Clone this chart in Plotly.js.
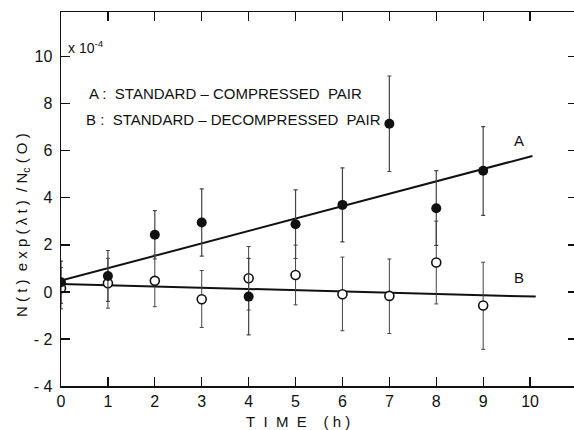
<!DOCTYPE html>
<html>
<head>
<meta charset="utf-8">
<script src="https://cdn.plot.ly/plotly-3.0.1.min.js"></script>
<style>
html,body{margin:0;padding:0;overflow:hidden;background:#fff;}
#chart{width:580px;height:430px;}
</style>
</head>
<body>
<div id="chart"></div>
<script>
// Time (h)
var timeH = [0, 1, 2, 3, 4, 5, 6, 7, 8, 9];
// A: standard-compressed pair (filled circles), values x1e-4
var seriesA = [0.41, 0.68, 2.43, 2.95, -0.20, 2.88, 3.70, 7.15, 3.56, 5.15];
var errA_plus = [0.90, 1.08, 1.03, 1.43, 1.63, 1.46, 1.57, 2.03, 1.60, 1.88];
var errA_minus = [0.90, 1.08, 1.03, 1.43, 1.63, 1.46, 1.57, 2.03, 1.58, 1.90];
// B: standard-decompressed pair (open circles)
var seriesB = [0.16, 0.37, 0.47, -0.31, 0.58, 0.72, -0.10, -0.17, 1.25, -0.58];
var errB_plus = [0.88, 1.06, 1.10, 1.22, 1.35, 1.27, 1.58, 1.57, 1.76, 1.84];
var errB_minus = [0.88, 1.06, 1.10, 1.20, 1.35, 1.27, 1.55, 1.60, 1.76, 1.86];
// fitted lines (endpoints)
var fitA_x = [0, 10.05];
var fitA_y = [0.48, 5.78];
var fitB_x = [0, 10.12];
var fitB_y = [0.34, -0.20];
// axis ticks
var xTickVals = [0, 1, 2, 3, 4, 5, 6, 7, 8, 9, 10];
var xTickText = ['0', '1', '2', '3', '4', '5', '6', '7', '8', '9', '10'];
var yTickVals = [-4, -2, 0, 2, 4, 6, 8, 10];
var yTickText = ['- 4', '- 2', '0', '2', '4', '6', '8', '10'];

var FONT = 'Liberation Sans, Arial, sans-serif';

var traces = [
  {x: fitA_x, y: fitA_y, mode: 'lines', line: {color: '#111', width: 2}, hoverinfo: 'skip', showlegend: false},
  {x: fitB_x, y: fitB_y, mode: 'lines', line: {color: '#111', width: 2}, hoverinfo: 'skip', showlegend: false},
  {x: timeH, y: seriesB, mode: 'markers', showlegend: false,
   marker: {symbol: 'circle', size: 9, color: '#fff', line: {color: '#111', width: 1.6}},
   error_y: {type: 'data', symmetric: false, array: errB_plus, arrayminus: errB_minus, color: '#444', thickness: 1, width: 2}},
  {x: timeH, y: seriesA, mode: 'markers', showlegend: false,
   marker: {symbol: 'circle', size: 10, color: '#111', line: {color: '#111', width: 0}},
   error_y: {type: 'data', symmetric: false, array: errA_plus, arrayminus: errA_minus, color: '#444', thickness: 1.2, width: 2}}
];

var layout = {
  width: 580, height: 430,
  margin: {l: 61, r: 3, t: 12, b: 44},
  paper_bgcolor: '#fff', plot_bgcolor: '#fff',
  font: {family: FONT, color: '#111', size: 15},
  xaxis: {
    range: [0, 11], tickmode: 'array', tickvals: xTickVals, ticktext: xTickText,
    ticks: 'inside', ticklen: 9, tickwidth: 1.3, tickcolor: '#111',
    showline: true, linecolor: '#111', linewidth: 1.5, mirror: 'allticks',
    showgrid: false, zeroline: false,
    tickfont: {family: FONT, size: 16, color: '#111'}
  },
  yaxis: {
    range: [-4, 11.9], tickmode: 'array', tickvals: yTickVals, ticktext: yTickText,
    ticks: 'inside', ticklen: 9, tickwidth: 1.3, tickcolor: '#111',
    showline: true, linecolor: '#111', linewidth: 1.5, mirror: 'allticks',
    showgrid: false, zeroline: false, ticklabelstandoff: 4,
    tickfont: {family: FONT, size: 16, color: '#111'}
  },
  annotations: [
    {xref: 'paper', yref: 'paper', x: -0.076, y: 0.43, xanchor: 'center', yanchor: 'middle',
     text: 'N ( t )&nbsp;&nbsp;e x p ( λ t )&nbsp;&nbsp;/ N<sub>c</sub> ( O )', textangle: -90, showarrow: false,
     font: {family: FONT, size: 15, color: '#111'}},
    {xref: 'paper', yref: 'paper', x: 0.459, y: -0.096, xanchor: 'center', yanchor: 'middle',
     text: 'T&nbsp;&nbsp;I&nbsp;&nbsp;M&nbsp;&nbsp;E&nbsp;&nbsp;&nbsp;&nbsp;( h )', showarrow: false,
     font: {family: FONT, size: 15, color: '#111'}},
    {xref: 'paper', yref: 'paper', x: 0.01, y: 0.906, xanchor: 'left', yanchor: 'middle',
     text: 'x 10<sup>-4</sup>', showarrow: false,
     font: {family: FONT, size: 14, color: '#111'}},
    {xref: 'x', yref: 'y', x: 0.56, y: 8.45, xanchor: 'left', yanchor: 'middle',
     text: 'A :&nbsp;&nbsp;STANDARD – COMPRESSED&nbsp;&nbsp;PAIR', showarrow: false,
     font: {family: FONT, size: 15, color: '#111'}},
    {xref: 'x', yref: 'y', x: 0.5, y: 7.35, xanchor: 'left', yanchor: 'middle',
     text: 'B :&nbsp;&nbsp;STANDARD – DECOMPRESSED&nbsp;&nbsp;PAIR', showarrow: false,
     font: {family: FONT, size: 15, color: '#111'}},
    {xref: 'x', yref: 'y', x: 9.77, y: 6.43, xanchor: 'center', yanchor: 'middle',
     text: 'A', showarrow: false, font: {family: FONT, size: 15, color: '#111'}},
    {xref: 'x', yref: 'y', x: 9.77, y: 0.61, xanchor: 'center', yanchor: 'middle',
     text: 'B', showarrow: false, font: {family: FONT, size: 15, color: '#111'}}
  ]
};

Plotly.newPlot('chart', traces, layout, {staticPlot: true, displayModeBar: false});
</script>
</body>
</html>
